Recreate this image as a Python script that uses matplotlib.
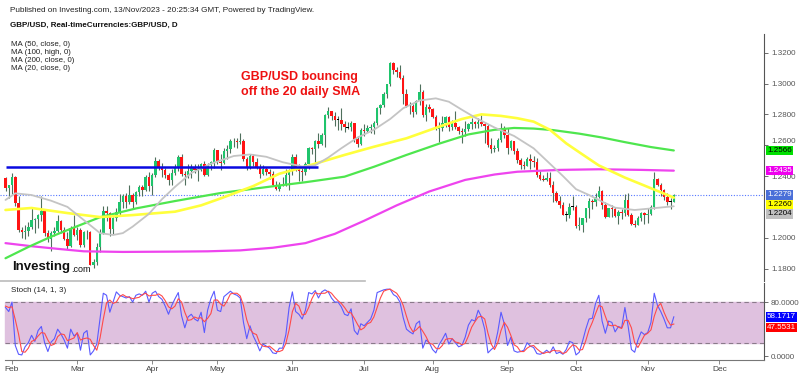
import matplotlib
matplotlib.use('Agg')
import matplotlib.pyplot as plt
from matplotlib.patches import Rectangle
from matplotlib.lines import Line2D
import matplotlib.transforms as mtransforms
import numpy as np
import pandas as pd

plt.rcParams['font.family'] = ['Liberation Sans', 'DejaVu Sans']

# ---- GBP/USD daily bars, Jan 30 - Nov 13 2023 (open = previous close) ----
first_open = 1.2390
close = [
    1.2325, 1.2340,
    1.2395, 1.2225, 1.2050, 1.2040, 1.2045, 1.2070, 1.2115, 1.2120, 1.2145, 1.2175,
    1.2030, 1.1990, 1.2030, 1.2045, 1.2110, 1.2050, 1.1995, 1.1945, 1.2065, 1.2020,
    1.2050, 1.1950, 1.2035, 1.2040, 1.1825, 1.1840, 1.1940, 1.2030, 1.2175, 1.2160,
    1.2055, 1.2130, 1.2170, 1.2230, 1.2270, 1.2235, 1.2280, 1.2230, 1.2295, 1.2330,
    1.2310, 1.2395, 1.2335,
    1.2410, 1.2500, 1.2460, 1.2440, 1.2405, 1.2375, 1.2420, 1.2460, 1.2525, 1.2415,
    1.2410, 1.2435, 1.2450, 1.2440, 1.2440, 1.2475, 1.2405, 1.2470, 1.2490, 1.2570,
    1.2490, 1.2485, 1.2565, 1.2575, 1.2630, 1.2625, 1.2620, 1.2630, 1.2510, 1.2450,
    1.2530, 1.2490, 1.2455, 1.2415, 1.2445, 1.2425, 1.2415, 1.2345, 1.2315, 1.2345,
    1.2340, 1.2405, 1.2435,
    1.2525, 1.2445, 1.2435, 1.2425, 1.2475, 1.2580, 1.2575, 1.2630, 1.2610, 1.2665,
    1.2795, 1.2820, 1.2790, 1.2765, 1.2765, 1.2740, 1.2715, 1.2715, 1.2745, 1.2640,
    1.2610, 1.2700,
    1.2690, 1.2710, 1.2715, 1.2745, 1.2840, 1.2860, 1.2930, 1.2995, 1.3135, 1.3090,
    1.3075, 1.3035, 1.2935, 1.2855, 1.2855, 1.2815, 1.2885, 1.2945, 1.2795, 1.2850,
    1.2835,
    1.2780, 1.2705, 1.2710, 1.2745, 1.2785, 1.2715, 1.2745, 1.2720, 1.2690, 1.2685,
    1.2705, 1.2735, 1.2750, 1.2735, 1.2750, 1.2735, 1.2725, 1.2600, 1.2575, 1.2585,
    1.2635, 1.2705, 1.2665,
    1.2580, 1.2625, 1.2560, 1.2505, 1.2470, 1.2465, 1.2510, 1.2495, 1.2490, 1.2405,
    1.2380, 1.2375, 1.2390, 1.2345, 1.2290, 1.2240, 1.2215, 1.2150, 1.2150, 1.2200,
    1.2200,
    1.2075, 1.2085, 1.2125, 1.2190, 1.2240, 1.2235, 1.2265, 1.2305, 1.2210, 1.2135,
    1.2190, 1.2185, 1.2140, 1.2165, 1.2160, 1.2245, 1.2150, 1.2090, 1.2080, 1.2130,
    1.2160, 1.2150,
    1.2155, 1.2200, 1.2380, 1.2345, 1.2310, 1.2265, 1.2235, 1.2235, 1.2279,
]
high = [
    1.2395, 1.2345,
    1.2418, 1.2400, 1.2270, 1.2070, 1.2080, 1.2100, 1.2195, 1.2130, 1.2155, 1.2270,
    1.2175, 1.2050, 1.2045, 1.2070, 1.2145, 1.2115, 1.2070, 1.2040, 1.2075, 1.2145,
    1.2070, 1.2060, 1.2045, 1.2050, 1.2045, 1.1860, 1.1965, 1.2055, 1.2205, 1.2205,
    1.2170, 1.2135, 1.2190, 1.2285, 1.2285, 1.2290, 1.2345, 1.2290, 1.2305, 1.2345,
    1.2345, 1.2405, 1.2425,
    1.2420, 1.2525, 1.2510, 1.2485, 1.2450, 1.2420, 1.2445, 1.2475, 1.2535, 1.2546,
    1.2435, 1.2475, 1.2475, 1.2475, 1.2475, 1.2485, 1.2495, 1.2485, 1.2500, 1.2585,
    1.2570, 1.2545, 1.2580, 1.2600, 1.2640, 1.2645, 1.2645, 1.2680, 1.2640, 1.2525,
    1.2540, 1.2545, 1.2515, 1.2480, 1.2470, 1.2460, 1.2445, 1.2430, 1.2365, 1.2360,
    1.2395, 1.2445, 1.2445,
    1.2545, 1.2545, 1.2475, 1.2460, 1.2490, 1.2590, 1.2590, 1.2635, 1.2680, 1.2680,
    1.2800, 1.2848, 1.2820, 1.2815, 1.2790, 1.2840, 1.2760, 1.2750, 1.2760, 1.2745,
    1.2660, 1.2710,
    1.2735, 1.2730, 1.2740, 1.2760, 1.2850, 1.2870, 1.2945, 1.3000, 1.3140, 1.3142,
    1.3110, 1.3120, 1.3055, 1.2965, 1.2880, 1.2870, 1.2895, 1.2995, 1.2955, 1.2870,
    1.2870,
    1.2840, 1.2795, 1.2750, 1.2790, 1.2790, 1.2790, 1.2765, 1.2820, 1.2725, 1.2710,
    1.2755, 1.2745, 1.2775, 1.2760, 1.2775, 1.2795, 1.2750, 1.2735, 1.2645, 1.2600,
    1.2645, 1.2745, 1.2725,
    1.2710, 1.2635, 1.2625, 1.2585, 1.2520, 1.2495, 1.2525, 1.2545, 1.2530, 1.2515,
    1.2430, 1.2405, 1.2425, 1.2425, 1.2370, 1.2300, 1.2270, 1.2235, 1.2175, 1.2225,
    1.2270,
    1.2210, 1.2135, 1.2130, 1.2195, 1.2260, 1.2250, 1.2290, 1.2337, 1.2310, 1.2235,
    1.2195, 1.2215, 1.2200, 1.2180, 1.2185, 1.2285, 1.2290, 1.2160, 1.2115, 1.2140,
    1.2170, 1.2170,
    1.2195, 1.2215, 1.2428, 1.2390, 1.2355, 1.2315, 1.2290, 1.2255, 1.2285,
]
low = [
    1.2305, 1.2260,
    1.2285, 1.2205, 1.2040, 1.2000, 1.1990, 1.2010, 1.2055, 1.2030, 1.2060, 1.2110,
    1.2010, 1.1970, 1.1915, 1.2010, 1.2040, 1.2030, 1.1985, 1.1925, 1.1940, 1.2010,
    1.1985, 1.1940, 1.1940, 1.1990, 1.1820, 1.1803, 1.1825, 1.1910, 1.2025, 1.2110,
    1.2010, 1.2025, 1.2110, 1.2150, 1.2195, 1.2190, 1.2220, 1.2190, 1.2220, 1.2270,
    1.2270, 1.2300, 1.2300,
    1.2275, 1.2395, 1.2440, 1.2395, 1.2390, 1.2345, 1.2345, 1.2410, 1.2435, 1.2400,
    1.2345, 1.2390, 1.2390, 1.2420, 1.2365, 1.2430, 1.2400, 1.2400, 1.2440, 1.2450,
    1.2480, 1.2440, 1.2480, 1.2510, 1.2550, 1.2590, 1.2585, 1.2610, 1.2500, 1.2440,
    1.2445, 1.2465, 1.2445, 1.2390, 1.2405, 1.2410, 1.2380, 1.2335, 1.2308, 1.2300,
    1.2335, 1.2335, 1.2310,
    1.2410, 1.2435, 1.2370, 1.2370, 1.2405, 1.2445, 1.2545, 1.2490, 1.2585, 1.2600,
    1.2590, 1.2775, 1.2765, 1.2725, 1.2700, 1.2700, 1.2685, 1.2705, 1.2690, 1.2620,
    1.2590, 1.2600,
    1.2660, 1.2685, 1.2680, 1.2670, 1.2730, 1.2800, 1.2850, 1.2905, 1.2985, 1.3065,
    1.3045, 1.3030, 1.2870, 1.2845, 1.2805, 1.2785, 1.2800, 1.2860, 1.2780, 1.2760,
    1.2815,
    1.2775, 1.2700, 1.2620, 1.2690, 1.2715, 1.2690, 1.2700, 1.2705, 1.2670, 1.2615,
    1.2660, 1.2690, 1.2705, 1.2710, 1.2710, 1.2725, 1.2615, 1.2590, 1.2550, 1.2555,
    1.2565, 1.2620, 1.2650,
    1.2545, 1.2570, 1.2545, 1.2485, 1.2445, 1.2445, 1.2475, 1.2445, 1.2460, 1.2395,
    1.2375, 1.2365, 1.2370, 1.2330, 1.2230, 1.2230, 1.2195, 1.2145, 1.2110, 1.2130,
    1.2180,
    1.2065, 1.2050, 1.2037, 1.2105, 1.2125, 1.2185, 1.2205, 1.2255, 1.2185, 1.2125,
    1.2135, 1.2135, 1.2135, 1.2090, 1.2120, 1.2140, 1.2140, 1.2085, 1.2070, 1.2085,
    1.2110, 1.2090,
    1.2095, 1.2150, 1.2185, 1.2335, 1.2270, 1.2245, 1.2210, 1.2185, 1.2235,
]

# ---- moving averages (bar index : value) ----
ma20_idx = [0, 3, 8, 14, 19, 24, 29, 33, 36, 39, 44, 48, 52, 57, 63, 70, 75, 80, 85, 91,
            95, 99, 103, 108, 113, 118, 122, 127, 132, 136, 140, 144, 150, 156, 162, 167,
            171, 175, 179, 183, 187, 193, 198, 205]
ma20_val = [1.2245, 1.2288, 1.2277, 1.2240, 1.2200, 1.2115, 1.2030, 1.2018, 1.2030, 1.2072,
            1.2155, 1.2250, 1.2330, 1.2420, 1.2480, 1.2530, 1.2540, 1.2525, 1.2490, 1.2462,
            1.2470, 1.2520, 1.2580, 1.2650, 1.2700, 1.2770, 1.2840, 1.2890, 1.2904, 1.2882,
            1.2830, 1.2780, 1.2715, 1.2660, 1.2580, 1.2480, 1.2400, 1.2315, 1.2277, 1.2234,
            1.2195, 1.2180, 1.2190, 1.2204]
ma50_idx = [0, 8, 19, 29, 39, 52, 60, 66, 76, 84, 91, 104, 113, 123, 133, 140, 146, 152,
            157, 162, 167, 172, 177, 182, 190, 198, 205]
ma50_val = [1.2180, 1.2193, 1.2160, 1.2134, 1.2147, 1.2169, 1.2210, 1.2255, 1.2335, 1.2415,
            1.2455, 1.2537, 1.2590, 1.2645, 1.2720, 1.2770, 1.2800, 1.2790, 1.2775, 1.2753,
            1.2700, 1.2612, 1.2540, 1.2469, 1.2390, 1.2321, 1.2260]
ma100_idx = [0, 7, 14, 22, 29, 40, 52, 66, 81, 92, 104, 113, 123, 133, 142, 150, 156, 162,
             168, 176, 183, 190, 198, 205]
ma100_val = [1.1867, 1.1940, 1.2007, 1.2075, 1.2133, 1.2190, 1.2238, 1.2290, 1.2331, 1.2360,
             1.2396, 1.2460, 1.2537, 1.2610, 1.2670, 1.2700, 1.2712, 1.2708, 1.2698, 1.2675,
             1.2650, 1.2620, 1.2588, 1.2566]
ma200_idx = [0, 8, 16, 24, 36, 52, 62, 72, 82, 92, 101, 110, 120, 130, 141, 150, 157, 170,
             182, 195, 205]
ma200_val = [1.1965, 1.1945, 1.1928, 1.1912, 1.1908, 1.1910, 1.1912, 1.1918, 1.1935, 1.1965,
             1.2025, 1.2110, 1.2210, 1.2300, 1.2375, 1.2410, 1.2428, 1.2440, 1.2444, 1.2440,
             1.2435]

# ---- Stochastic (14, 1, 3) ----
stoch_k = [
    72, 66,
    80, 16, 3, 2, 14, 20, 31, 22, 38, 44, 20, 7, 21, 26, 40, 33, 24, 12, 40, 30,
    34, 9, 34, 38, 2, 8, 18, 55, 93, 90, 65, 80, 95, 90, 88, 86, 88, 80, 90, 92, 90, 96, 80,
    93, 96, 88, 84, 74, 62, 75, 85, 94, 60, 42, 58, 62, 55, 52, 65, 35, 68, 85, 96,
    68, 66, 88, 92, 96, 92, 90, 86, 50, 26, 45, 30, 20, 8, 18, 15, 12, 5, 4, 12, 12, 32, 72,
    95, 66, 62, 55, 68, 94, 92, 97, 86, 95, 98, 95, 86, 80, 80, 73, 62, 60, 70, 38, 32, 48,
    45, 50, 55, 68, 94, 96, 98, 99, 99, 91, 88, 80, 57, 40, 36, 33, 48, 52, 12, 24, 20,
    10, 5, 17, 25, 34, 18, 26, 20, 14, 16, 28, 46, 54, 52, 68, 58, 40, 5, 10, 14, 36, 65, 48,
    16, 28, 8, 6, 7, 9, 20, 15, 13, 4, 3, 5, 9, 5, 14, 4, 6, 3, 10, 22, 20,
    2, 6, 22, 40, 55, 56, 78, 90, 52, 34, 52, 50, 36, 44, 42, 72, 44, 10, 6, 24, 36, 32,
    35, 50, 93, 75, 66, 55, 42, 42, 58.1717,
]
stoch_d = [
    74, 72,
    73, 54, 33, 7, 6, 12, 22, 24, 30, 35, 34, 24, 16, 18, 29, 33, 32, 23, 25, 27,
    35, 24, 26, 27, 25, 16, 9, 27, 55, 79, 83, 78, 80, 88, 91, 88, 87, 85, 86, 87, 91, 93, 89,
    90, 90, 92, 89, 82, 73, 70, 74, 85, 80, 65, 53, 54, 58, 56, 57, 51, 56, 63, 83,
    83, 77, 74, 82, 92, 93, 93, 89, 75, 54, 40, 34, 32, 19, 15, 14, 15, 11, 7, 7, 9, 19, 39,
    66, 78, 74, 61, 62, 72, 85, 94, 92, 93, 93, 96, 93, 87, 82, 78, 72, 65, 64, 56, 47, 39,
    42, 48, 50, 58, 72, 86, 96, 98, 99, 96, 93, 86, 75, 59, 44, 36, 39, 44, 37, 29, 19,
    18, 12, 11, 16, 25, 26, 26, 21, 20, 17, 19, 30, 43, 51, 58, 59, 55, 34, 18, 10, 20, 38, 50,
    43, 31, 17, 14, 7, 7, 12, 15, 16, 11, 7, 4, 6, 6, 9, 8, 8, 4, 6, 12, 17,
    15, 9, 10, 23, 39, 50, 63, 75, 73, 59, 46, 45, 46, 43, 41, 53, 53, 42, 20, 13, 22, 31,
    34, 39, 59, 73, 78, 65, 54, 46, 47.5531,
]

resistance_level = 1.2461
resistance_end = '2023-06-13'
price_ticks = [1.18, 1.20, 1.24, 1.26, 1.28, 1.30, 1.32]   # 1.2200 sits under the tags

assert len(close) == len(high) == len(low) == len(stoch_k) == len(stoch_d)

dates = pd.bdate_range('2023-01-30', periods=len(close))
x = np.arange(len(close))
opens = [first_open] + close[:-1]

W, H = 800, 376
fig = plt.figure(figsize=(W / 100, H / 100), dpi=100)


def px_axes(l, t, r, b):
    return fig.add_axes([l / W, 1 - b / H, (r - l) / W, (b - t) / H])


def price_at(ypx):
    return 1.32 - (ypx - 52.7) / 1542.0


ax = px_axes(0, 34, 764, 281)
ax2 = px_axes(0, 283, 764, 360)
BAR_PX, X0 = 3.26, 5.5
for a in (ax, ax2):
    a.set_xlim((0 - X0) / BAR_PX, (764 - X0) / BAR_PX)
    a.set_facecolor('none')
    for s in ('top', 'left', 'bottom'):
        a.spines[s].set_visible(False)
    a.spines['right'].set_color('#555555')
    a.spines['right'].set_linewidth(0.8)
    a.yaxis.tick_right()
    a.tick_params(axis='y', length=3, width=0.6, color='#555555',
                  labelsize=5.8, labelcolor='#555555', pad=2)
ax.set_ylim(price_at(281), price_at(34))
ax.set_xticks([])

# candles
up_col, down_col, wick_col = '#1fc46c', '#ff1414', '#4f6f5c'
for i in x:
    o, c, h, l = opens[i], close[i], high[i], low[i]
    ax.vlines(i, min(l, o, c), max(h, o, c), color=wick_col, lw=0.8, zorder=2)
    if abs(c - o) < 0.0003:
        ax.add_patch(Rectangle((i - 0.42, c - 0.0003), 0.84, 0.0006,
                               facecolor='black', edgecolor='none', zorder=3))
    else:
        ax.add_patch(Rectangle((i - 0.38, min(o, c)), 0.76, abs(c - o),
                               facecolor=up_col if c > o else down_col,
                               edgecolor='none', zorder=3))

# moving averages
ax.plot(ma200_idx, ma200_val, color='#ee44ee', lw=1.6, zorder=4, solid_capstyle='round')
ax.plot(ma100_idx, ma100_val, color='#4ee64e', lw=1.6, zorder=4, solid_capstyle='round')
ax.plot(ma50_idx, ma50_val, color='#ffff3c', lw=1.9, zorder=4, solid_capstyle='round')
ax.plot(ma20_idx, ma20_val, color='#c4c4c4', lw=1.3, zorder=4, solid_capstyle='round')

# resistance line and last price line
res_end_idx = dates.get_loc(pd.Timestamp(resistance_end))
ax.hlines(resistance_level, 0, res_end_idx, color='#0a0ae0', lw=1.8, zorder=5)
ax.axhline(close[-1], color='#5577ff', ls=(0, (1, 1.5)), lw=0.8, zorder=1)

ax.set_yticks(price_ticks)
labels = ax.set_yticklabels(['%.4f' % t for t in price_ticks])
for lab in labels:
    if lab.get_text() == '1.2600':      # peeks out just above the MA100 tag
        lab.set_va('bottom')


def tags(axis, items, gap):
    trans = mtransforms.blended_transform_factory(axis.transAxes, axis.transData)
    prev = None
    for val, fc, tc in sorted(items, key=lambda t: -t[0]):
        y = val if prev is None else min(val, prev - gap)
        prev = y
        axis.text(1.004, y, '%.4f' % val, transform=trans, ha='left', va='center',
                  fontsize=5.8, color=tc, zorder=10, clip_on=False,
                  bbox=dict(boxstyle='square,pad=0.16', fc=fc, ec='none'))


tags(ax, [(ma100_val[-1], '#00e000', 'black'),
          (ma200_val[-1], '#ee00ee', 'white'),
          (close[-1], '#4a6fd8', 'white'),
          (ma50_val[-1], '#ffff00', 'black'),
          (ma20_val[-1], '#c0c0c0', 'black')], gap=9.6 / 1542.0)

# stochastic panel
ax2.set_ylim((356.3 - 360) / 0.678, (356.3 - 283) / 0.678)
ax2.axhspan(20, 80, xmin=5 / 764, color='#dfc1df', zorder=0)
for lvl in (20, 80):
    ax2.axhline(lvl, xmin=5 / 764, color='#8a7a8a', lw=0.8, ls=(0, (4, 3)), zorder=1)
ax2.plot(x, stoch_k, color='#5a5aff', lw=0.8, zorder=3)
ax2.plot(x, stoch_d, color='#ff4a4a', lw=0.8, zorder=3)
ax2.set_yticks([0, 80])
ax2.set_yticklabels(['0.0000', '80.0000'])
ax2.spines['bottom'].set_visible(True)
ax2.spines['bottom'].set_color('#777777')
ax2.spines['bottom'].set_linewidth(0.8)
ax2.spines['bottom'].set_bounds((5 - X0) / BAR_PX, (764 - X0) / BAR_PX)
tags(ax2, [(stoch_k[-1], '#0000ff', 'white'), (stoch_d[-1], '#ff0000', 'white')],
     gap=10.8 / 0.678)

full = pd.bdate_range('2023-01-30', '2023-12-29')
month_pos, month_lab = [], []
for m in range(2, 13):
    month_pos.append(int(np.argmax(full.month == m)))
    month_lab.append(pd.Timestamp(2023, m, 1).strftime('%b'))
ax2.set_xticks(month_pos)
ax2.set_xticklabels(month_lab)
ax2.tick_params(axis='x', length=3, width=0.6, color='#777777', labelsize=6,
                labelcolor='#444444', pad=1.5)


def ftext(xp, yp, s, **kw):
    fig.text(xp / W, 1 - yp / H, s, va='center', ha='left', **kw)


ftext(10, 11, 'Published on Investing.com, 13/Nov/2023 - 20:25:34 GMT, Powered by TradingView.',
      fontsize=5.9, color='#222222')
ftext(10, 25, 'GBP/USD, Real-timeCurrencies:GBP/USD, D', fontsize=5.8,
      fontweight='bold', color='#111111')
for k, s in enumerate(['MA (50, close, 0)', 'MA (100, high, 0)',
                       'MA (200, close, 0)', 'MA (20, close, 0)']):
    ftext(11, 44 + 8 * k, s, fontsize=5.7, color='#222222')
ftext(241, 77, 'GBP/USD bouncing', fontsize=9, fontweight='bold', color='#ee1111')
ftext(241, 92, 'off the 20 daily SMA', fontsize=9, fontweight='bold', color='#ee1111')
ftext(12, 267, 'Investing', fontsize=9.5, fontweight='bold', color='#111111')
ftext(71, 269, '.com', fontsize=6.5, color='#111111')
ftext(11, 291, 'Stoch (14, 1, 3)', fontsize=5.8, color='#222222')
fig.add_artist(Line2D([0, 365 / W], [1 - 281 / H] * 2, color='#bbbbbb', lw=1.2))

fig.savefig('out.png', dpi=100)
